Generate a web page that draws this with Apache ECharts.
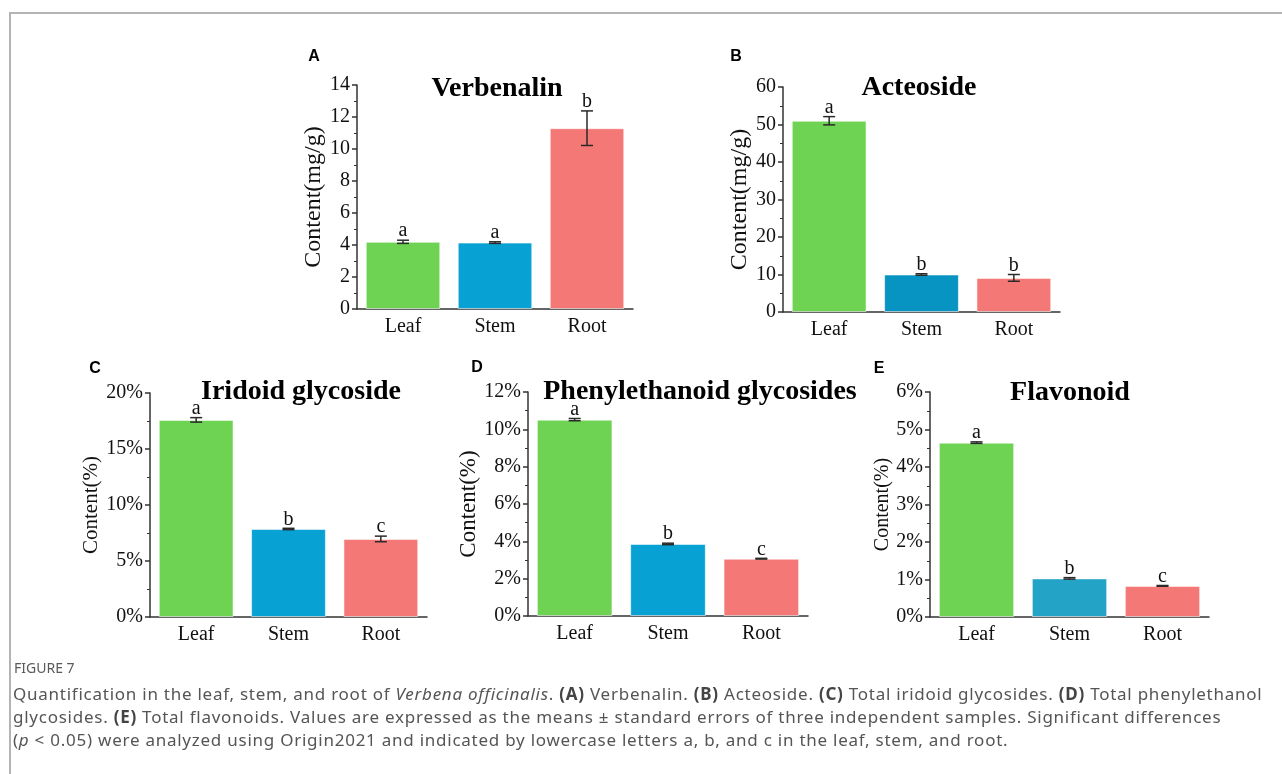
<!DOCTYPE html>
<html>
<head>
<meta charset="utf-8">
<script src="https://cdn.jsdelivr.net/npm/echarts@6/dist/echarts.min.js"></script>
<style>
    html, body {margin:0;padding:0;background:#fff;}
    #wrap {position:relative;width:1282px;height:774px;overflow:hidden;background:#fff;}
    #chart {position:absolute;left:0;top:0;width:1282px;height:774px;}
    .frame {position:absolute;left:9px;top:12px;right:-4px;bottom:-4px;border-left:2px solid #b4b4b4;border-top:2px solid #b4b4b4;}
    .fig-no {position:absolute;left:14px;top:658px;font-family:"Noto Sans";font-size:14px;color:#5a5a5a;}
    .caption {position:absolute;left:13px;top:682px;width:1265px;font-family:"Noto Sans";font-size:17px;letter-spacing:0.75px;line-height:23px;color:#555;white-space:nowrap;}
    .caption b {color:#444;}
</style>
</head>
<body>
<div id="wrap">
    <div class="frame"></div>
    <div id="chart"></div>
    <div class="fig-no">FIGURE 7</div>
    <div class="caption">
        Quantification in the leaf, stem, and root of <i>Verbena officinalis</i>. <b>(A)</b> Verbenalin. <b>(B)</b> Acteoside. <b>(C)</b> Total iridoid glycosides. <b>(D)</b> Total phenylethanol<br>
        glycosides. <b>(E)</b> Total flavonoids. Values are expressed as the means ± standard errors of three independent samples. Significant differences<br>
        (<i>p</i> &lt; 0.05) were analyzed using Origin2021 and indicated by lowercase letters a, b, and c in the leaf, stem, and root.
    </div>
</div>
<script>
    var categories = ['Leaf', 'Stem', 'Root'];

    // A - Verbenalin (mg/g)
    var verbenalinMean = [4.2, 4.15, 11.3];
    var verbenalinErr = [0.1, 0.05, 1.08];
    var verbenalinSig = ['a', 'a', 'b'];

    // B - Acteoside (mg/g)
    var acteosideMean = [51.0, 10.0, 9.1];
    var acteosideErr = [1.1, 0.2, 0.9];
    var acteosideSig = ['a', 'b', 'b'];

    // C - Iridoid glycoside (%)
    var iridoidMean = [17.6, 7.86, 6.97];
    var iridoidErr = [0.2, 0.06, 0.25];
    var iridoidSig = ['a', 'b', 'c'];

    // D - Phenylethanoid glycosides (%)
    var phenylMean = [10.52, 3.86, 3.07];
    var phenylErr = [0.06, 0.04, 0.02];
    var phenylSig = ['a', 'b', 'c'];

    // E - Flavonoid (%)
    var flavonoidMean = [4.65, 1.03, 0.83];
    var flavonoidErr = [0.02, 0.02, 0.01];
    var flavonoidSig = ['a', 'b', 'c'];

    // y axis ranges (max, interval)
    var yMaxA = 14, yStepA = 2;
    var yMaxB = 60, yStepB = 10;
    var yMaxC = 20, yStepC = 5;
    var yMaxD = 12, yStepD = 2;
    var yMaxE = 6, yStepE = 1;

    var serif = 'Liberation Serif';
    var axisColor = '#333';

    var panels = [
        {letter: 'A', title: 'Verbenalin', mean: verbenalinMean, err: verbenalinErr, sig: verbenalinSig,
         max: yMaxA, step: yStepA, unit: '', name: 'Content(mg/g)', nameSize: 24, nameGap: 29,
         colors: ['#6ed353', '#08a1d3', '#f47976'],
         left: 357, top: 85, width: 276, height: 224, titleX: 497, titleY: 89, letterX: 314, letterY: 57},
        {letter: 'B', title: 'Acteoside', mean: acteosideMean, err: acteosideErr, sig: acteosideSig,
         max: yMaxB, step: yStepB, unit: '', name: 'Content(mg/g)', nameSize: 24, nameGap: 25,
         colors: ['#6ed353', '#0894c2', '#f47976'],
         left: 783, top: 87, width: 277, height: 225, titleX: 919, titleY: 88, letterX: 736, letterY: 57},
        {letter: 'C', title: 'Iridoid glycoside', mean: iridoidMean, err: iridoidErr, sig: iridoidSig,
         max: yMaxC, step: yStepC, unit: '%', name: 'Content(%)', nameSize: 21, nameGap: 43,
         colors: ['#6ed353', '#08a1d3', '#f47976'],
         left: 150, top: 393, width: 277, height: 224, titleX: 301, titleY: 392, letterX: 95, letterY: 369},
        {letter: 'D', title: 'Phenylethanoid glycosides', mean: phenylMean, err: phenylErr, sig: phenylSig,
         max: yMaxD, step: yStepD, unit: '%', name: 'Content(%)', nameSize: 23, nameGap: 43,
         colors: ['#6ed353', '#08a1d3', '#f47976'],
         left: 528, top: 392, width: 280, height: 224, titleX: 700, titleY: 392, letterX: 477, letterY: 368},
        {letter: 'E', title: 'Flavonoid', mean: flavonoidMean, err: flavonoidErr, sig: flavonoidSig,
         max: yMaxE, step: yStepE, unit: '%', name: 'Content(%)', nameSize: 20, nameGap: 35,
         colors: ['#6ed353', '#23a3c6', '#f47976'],
         left: 930, top: 392, width: 279, height: 225, titleX: 1070, titleY: 393, letterX: 879, letterY: 369}
    ];

    function errorBar(sig) {
        return function (params, api) {
            var i = api.value(0), m = api.value(1), e = api.value(2);
            var hi = api.coord([i, m + e]);
            var lo = api.coord([i, m - e]);
            var w = 6;
            var ls = {stroke: '#2a2a2a', lineWidth: 1.5};
            return {
                type: 'group',
                children: [
                    {type: 'line', shape: {x1: hi[0], y1: hi[1], x2: lo[0], y2: lo[1]}, style: ls},
                    {type: 'line', shape: {x1: hi[0] - w, y1: hi[1], x2: hi[0] + w, y2: hi[1]}, style: ls},
                    {type: 'line', shape: {x1: lo[0] - w, y1: lo[1], x2: lo[0] + w, y2: lo[1]}, style: ls},
                    {type: 'text', x: hi[0], y: hi[1] + 1,
                     style: {text: sig[params.dataIndex], align: 'center', verticalAlign: 'bottom',
                             font: '20px "Liberation Serif"', fill: '#111'}}
                ]
            };
        };
    }

    var chart = echarts.init(document.getElementById('chart'));

    var option = {
        animation: false,
        backgroundColor: 'transparent',
        grid: [], xAxis: [], yAxis: [], series: [], graphic: []
    };

    panels.forEach(function (p, k) {
        option.grid.push({left: p.left, top: p.top, width: p.width, height: p.height, containLabel: false});
        option.xAxis.push({
            gridIndex: k, type: 'category', data: categories,
            axisLine: {lineStyle: {color: axisColor, width: 1.5}},
            axisTick: {alignWithLabel: true, length: 5, lineStyle: {color: axisColor, width: 1.5}},
            axisLabel: {fontFamily: serif, fontSize: 20, color: '#111', margin: 8}
        });
        option.yAxis.push({
            gridIndex: k, type: 'value', min: 0, max: p.max, interval: p.step,
            name: p.name, nameLocation: 'middle', nameGap: p.nameGap,
            nameTextStyle: {fontFamily: serif, fontSize: p.nameSize, color: '#111'},
            axisLine: {show: true, lineStyle: {color: axisColor, width: 1.5}},
            axisTick: {show: true, length: 5, lineStyle: {color: axisColor, width: 1.5}},
            minorTick: {show: true, splitNumber: 2, length: 3, lineStyle: {color: axisColor, width: 1}},
            splitLine: {show: false},
            axisLabel: {fontFamily: serif, fontSize: 20, color: '#111', margin: 7, formatter: '{value}' + p.unit}
        });
        option.series.push({
            type: 'bar', xAxisIndex: k, yAxisIndex: k, barWidth: '81%',
            data: p.mean.map(function (v, j) {
                return {value: v, itemStyle: {color: p.colors[j], borderColor: 'rgba(255,255,255,0.55)', borderWidth: 1}};
            })
        });
        option.series.push({
            type: 'custom', xAxisIndex: k, yAxisIndex: k, clip: false, z: 10,
            renderItem: errorBar(p.sig),
            data: p.mean.map(function (v, j) { return [j, v, p.err[j]]; })
        });
        option.graphic.push({
            type: 'text', x: p.titleX, y: p.titleY,
            style: {text: p.title, align: 'center', verticalAlign: 'middle',
                    font: 'bold 28px "Liberation Serif"', fill: '#000'}
        });
        option.graphic.push({
            type: 'text', x: p.letterX, y: p.letterY,
            style: {text: p.letter, align: 'center', verticalAlign: 'middle',
                    font: 'bold 16px "Liberation Sans"', fill: '#000'}
        });
    });

    chart.setOption(option);
</script>
</body>
</html>
